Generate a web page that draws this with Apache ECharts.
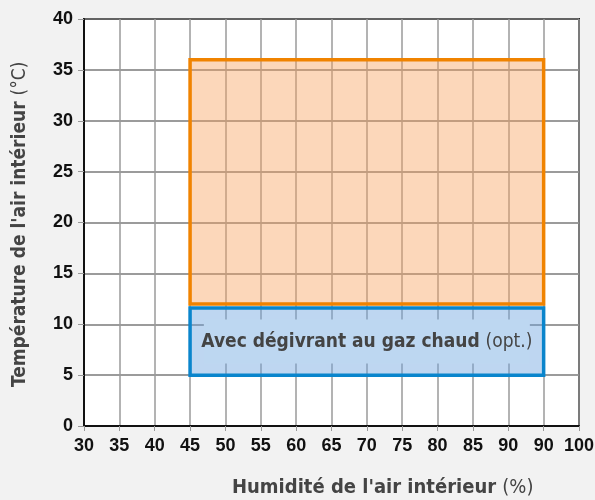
<!DOCTYPE html>
<html>
<head>
<meta charset="utf-8">
<script src="https://cdn.jsdelivr.net/npm/echarts@6/dist/echarts.min.js"></script>
<style>
  html, body { margin: 0; padding: 0; background: #f2f2f2; }
  #chart { width: 595px; height: 500px; }
</style>
</head>
<body>
<div id="chart"></div>
<script>
// tick labels as printed (the second "90" sits at the 95 position)
const xTickLabels = ['30', '35', '40', '45', '50', '55', '60', '65', '70', '75', '80', '85', '90', '90', '100']
const yTickLabels = ['0', '5', '10', '15', '20', '25', '30', '35', '40']

// operating zones: [xStart, xEnd, yStart, yEnd]
const zoneNames = ['standard', 'hotgas']
const zoneX = [[45, 95], [45, 95]]
const zoneY = [[12, 36], [5, 11.6]]
const zoneLabel = ['', 'Avec dégivrant au gaz chaud|(opt.)']

const condensed = '"Liberation Sans Narrow", "DejaVu Sans Condensed", "Roboto", sans-serif'
const tickFont = '"Liberation Sans", Arial, sans-serif'

const zoneStyle = {
  standard: { fill: 'rgba(249,160,90,0.42)', stroke: '#f08300' },
  hotgas: { fill: 'rgba(110,165,225,0.45)', stroke: '#0a85cc' },
}

const data = zoneNames.map((n, i) => [zoneX[i][0], zoneX[i][1], zoneY[i][0], zoneY[i][1], i])

const chart = echarts.init(document.getElementById('chart'))

chart.setOption({
  backgroundColor: '#f2f2f2',
  animation: false,
  grid: {
    left: 84, right: 16, top: 19, bottom: 74, outerBoundsMode: 'none',
    show: true, backgroundColor: '#fff', borderColor: '#222', borderWidth: 2,
  },
  xAxis: {
    type: 'value', min: 30, max: 100, interval: 5,
    axisLine: { show: true, lineStyle: { color: '#111', width: 2 } },
    axisTick: { show: true, length: 5, lineStyle: { color: '#999' } },
    axisLabel: {
      color: '#111', fontWeight: 'bold', fontSize: 18, margin: 11,
      fontFamily: tickFont,
      formatter: v => xTickLabels[Math.round((v - 30) / 5)],
    },
    splitLine: { show: true, lineStyle: { color: '#9a9a9a', width: 1.5 } },
  },
  yAxis: {
    type: 'value', min: 0, max: 40, interval: 5,
    axisLine: { show: true, lineStyle: { color: '#111', width: 2 } },
    axisTick: { show: true, length: 6, lineStyle: { color: '#999' } },
    axisLabel: {
      color: '#111', fontWeight: 'bold', fontSize: 18, margin: 11,
      fontFamily: tickFont,
      formatter: v => yTickLabels[Math.round(v / 5)],
    },
    splitLine: { show: true, lineStyle: { color: '#7a7a7a', width: 1.5 } },
  },
  graphic: [
    {
      type: 'text', left: 232, top: 478,
      style: {
        text: "{b|Humidité de l'air intérieur }{n|(%)}",
        rich: {
          b: { fontFamily: condensed, fontWeight: 'bold', fontSize: 20, fill: '#444' },
          n: { fontFamily: condensed, fontSize: 20, fill: '#444' },
        },
      },
    },
    {
      type: 'text', x: 11, y: 387, rotation: Math.PI / 2,
      style: {
        text: "{b|Température de l'air intérieur }{n|(°C)}",
        rich: {
          b: { fontFamily: condensed, fontWeight: 'bold', fontSize: 19, fill: '#444' },
          n: { fontFamily: condensed, fontSize: 19, fill: '#444' },
        },
      },
    },
  ],
  series: [{
    type: 'custom',
    data: data,
    renderItem: (params, api) => {
      const p0 = api.coord([api.value(0), api.value(3)])
      const p1 = api.coord([api.value(1), api.value(2)])
      const idx = api.value(4)
      const st = zoneStyle[zoneNames[idx]]
      const children = [{
        type: 'rect',
        shape: { x: p0[0], y: p0[1], width: p1[0] - p0[0], height: p1[1] - p0[1] },
        style: { fill: st.fill, stroke: st.stroke, lineWidth: 3.5 },
      }]
      if (zoneLabel[idx]) {
        const parts = zoneLabel[idx].split('|')
        children.push({
          type: 'rect',
          shape: { x: (p0[0] + p1[0]) / 2 - 163, y: (p0[1] + p1[1]) / 2 - 22, width: 326, height: 44 },
          style: { fill: '#bdd7f1' },
        })
        children.push({
          type: 'text',
          x: (p0[0] + p1[0]) / 2, y: (p0[1] + p1[1]) / 2 + 1,
          style: {
            text: '{b|' + parts[0] + ' }{n|' + parts[1] + '}',
            align: 'center', verticalAlign: 'middle',
            rich: {
              b: { fontFamily: condensed, fontWeight: 'bold', fontSize: 19, fill: '#444' },
              n: { fontFamily: condensed, fontSize: 19, fill: '#444' },
            },
          },
        })
      }
      return { type: 'group', children: children }
    },
  }],
})
</script>
</body>
</html>
